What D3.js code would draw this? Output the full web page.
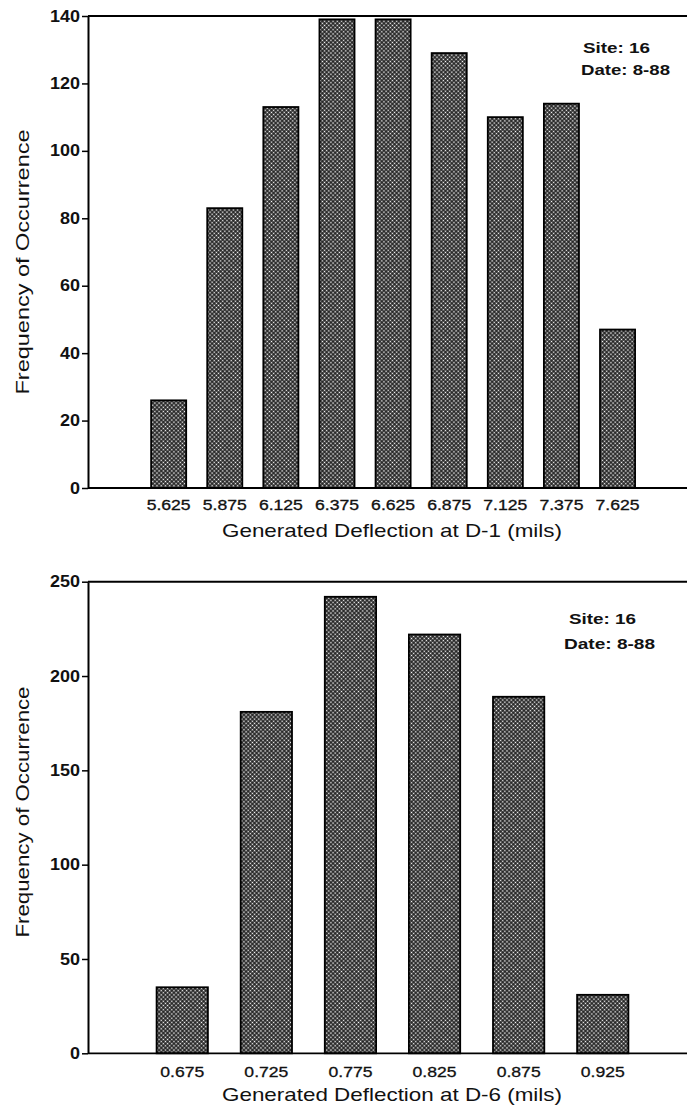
<!DOCTYPE html>
<html>
<head>
<meta charset="utf-8">
<script src="https://cdn.jsdelivr.net/npm/d3@7"></script>
<style>
body { margin: 0; background: #fff; }
text { font-family: "Liberation Sans", Arial, Helvetica, sans-serif; fill: #111; }
</style>
</head>
<body>
<div id="chart-area"></div>
<script>
// D-1 histogram
var d1Bins = ["5.625", "5.875", "6.125", "6.375", "6.625", "6.875", "7.125", "7.375", "7.625"];
var d1Counts = [26, 83, 113, 139, 139, 129, 110, 114, 47];
var d1Ticks = [0, 20, 40, 60, 80, 100, 120, 140];

// D-6 histogram
var d6Bins = ["0.675", "0.725", "0.775", "0.825", "0.875", "0.925"];
var d6Counts = [35, 181, 242, 222, 189, 31];
var d6Ticks = [0, 50, 100, 150, 200, 250];

var noteLines = ["Site: 16", "Date: 8-88"];
var yTitle = "Frequency of Occurrence";
var d1Title = "Generated Deflection at D-1 (mils)";
var d6Title = "Generated Deflection at D-6 (mils)";

var svg = d3.select("#chart-area")
    .append("svg")
    .attr("width", 687)
    .attr("height", 1107);

// dotted screen fill of the bars
var pat = svg.append("defs").append("pattern")
    .attr("id", "screen")
    .attr("patternUnits", "userSpaceOnUse")
    .attr("width", 3)
    .attr("height", 3)
    .attr("patternTransform", "rotate(45)");
pat.append("rect").attr("width", 3).attr("height", 3).attr("fill", "#151515");
pat.append("rect").attr("x", 0.7).attr("y", 0.7).attr("width", 1.6).attr("height", 1.6).attr("fill", "#fff");

var axisX = 88;

function panel(o) {
    var y = d3.scaleLinear().domain([0, o.yMax]).range([o.bottom, o.top]);
    var x = d3.scaleBand()
        .domain(o.bins)
        .range(o.xRange)
        .paddingInner(o.pad)
        .paddingOuter(o.pad / 2);

    var g = svg.append("g");

    // bars
    g.selectAll("rect.bar").data(o.counts).enter()
        .append("rect")
            .attr("class", "bar")
            .attr("x", (d, i) => x(o.bins[i]))
            .attr("y", (d) => y(d))
            .attr("width", x.bandwidth())
            .attr("height", (d) => y(0) - y(d))
            .attr("fill", "url(#screen)")
            .attr("stroke", "#000")
            .attr("stroke-width", 1.8);

    // frame: top line and baseline
    g.append("line")
        .attr("x1", axisX).attr("x2", 687)
        .attr("y1", y(o.yMax)).attr("y2", y(o.yMax))
        .attr("stroke", "#000").attr("stroke-width", 2);
    g.append("line")
        .attr("x1", axisX).attr("x2", 687)
        .attr("y1", y(0)).attr("y2", y(0))
        .attr("stroke", "#000").attr("stroke-width", 1.8);

    // y axis
    var ya = g.append("g")
        .attr("transform", "translate(" + axisX + ",0)")
        .call(d3.axisLeft(y).tickValues(o.ticks).tickSize(6).tickSizeOuter(0).tickPadding(2));
    ya.select(".domain").attr("stroke", "#000").attr("stroke-width", 2);
    ya.selectAll(".tick line").attr("stroke", "#000").attr("stroke-width", 1.5);
    ya.selectAll(".tick text")
        .style("font-size", "16px")
        .style("font-weight", "bold")
        .attr("fill", "#111")
        .attr("textLength", (d) => String(d).length * 10)
        .attr("lengthAdjust", "spacingAndGlyphs");

    // x labels
    var xa = g.append("g")
        .attr("transform", "translate(0," + y(0) + ")")
        .call(d3.axisBottom(x).tickSize(0).tickPadding(0));
    xa.select(".domain").remove();
    xa.selectAll(".tick text")
        .attr("y", o.labelDy)
        .attr("dy", 0)
        .style("font-size", o.labelFont + "px")
        .attr("fill", "#111")
        .attr("stroke", "#111")
        .attr("stroke-width", 0.3)
        .attr("textLength", 44)
        .attr("lengthAdjust", "spacingAndGlyphs");

    // x title
    g.append("text")
        .attr("x", o.xTitleX)
        .attr("y", o.xTitleY)
        .style("font-size", "19px")
        .attr("textLength", 340)
        .attr("lengthAdjust", "spacingAndGlyphs")
        .text(o.xTitle);

    // y title
    g.append("text")
        .attr("transform", "translate(29," + o.yTitleMid + ") rotate(-90)")
        .attr("text-anchor", "middle")
        .style("font-size", "19px")
        .attr("textLength", o.yTitleLen)
        .attr("lengthAdjust", "spacingAndGlyphs")
        .text(yTitle);

    // site / date note
    g.selectAll("text.note").data(noteLines).enter()
        .append("text")
            .attr("class", "note")
            .attr("x", (d, i) => o.note[i][0])
            .attr("y", (d, i) => o.note[i][1])
            .style("font-size", "15px")
            .style("font-weight", "bold")
            .attr("textLength", (d, i) => o.note[i][2])
            .attr("lengthAdjust", "spacingAndGlyphs")
            .text((d) => d);
}

panel({
    bins: d1Bins, counts: d1Counts, ticks: d1Ticks, yMax: 140,
    top: 16, bottom: 488,
    xRange: [140.6, 645.6], pad: 0.375,
    labelDy: 22, labelFont: 14,
    xTitle: d1Title, xTitleX: 222, xTitleY: 537,
    yTitleMid: 262, yTitleLen: 265,
    note: [[583, 53, 67], [581, 75, 89]]
});

panel({
    bins: d6Bins, counts: d6Counts, ticks: d6Ticks, yMax: 250,
    top: 581.7, bottom: 1053.3,
    xRange: [140.2, 644.8], pad: 0.39,
    labelDy: 23.4, labelFont: 15,
    xTitle: d6Title, xTitleX: 222, xTitleY: 1101,
    yTitleMid: 812, yTitleLen: 251,
    note: [[569, 624, 67], [564, 649, 91]]
});
</script>
</body>
</html>
